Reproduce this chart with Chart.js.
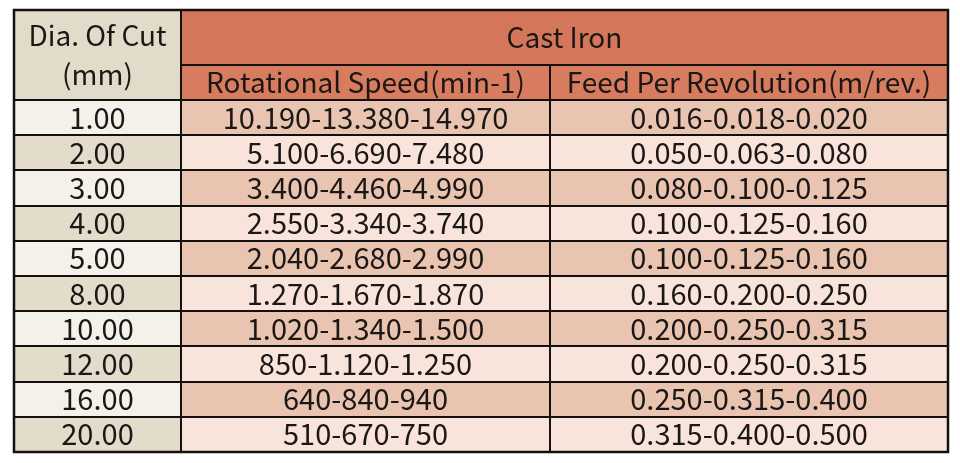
<!DOCTYPE html>
<html>
<head>
<meta charset="utf-8">
<script src="https://cdn.jsdelivr.net/npm/chart.js@4"></script>
<style>
  html, body { margin: 0; padding: 0; background: #fff; }
  #wrap { width: 960px; height: 463px; }
</style>
</head>
<body>
<div id="wrap"><canvas id="tableChart"></canvas></div>
<script>
// table content
const title = "Cast Iron";
const firstHeader = ["Dia. Of Cut", "(mm)"];
const subHeaders = ["Rotational Speed(min-1)", "Feed Per Revolution(m/rev.)"];
const diameters = ["1.00", "2.00", "3.00", "4.00", "5.00", "8.00", "10.00", "12.00", "16.00", "20.00"];
const speeds = [
  "10.190-13.380-14.970", "5.100-6.690-7.480", "3.400-4.460-4.990", "2.550-3.340-3.740",
  "2.040-2.680-2.990", "1.270-1.670-1.870", "1.020-1.340-1.500", "850-1.120-1.250",
  "640-840-940", "510-670-750"
];
const feeds = [
  "0.016-0.018-0.020", "0.050-0.063-0.080", "0.080-0.100-0.125", "0.100-0.125-0.160",
  "0.100-0.125-0.160", "0.160-0.200-0.250", "0.200-0.250-0.315", "0.200-0.250-0.315",
  "0.250-0.315-0.400", "0.315-0.400-0.500"
];

// layout (in scale units)
const colWidths = [167, 369, 398];
const titleH = 55, subH = 35, rowH = 35.2;
const FONT = '"Noto Sans CJK SC", "Noto Sans", sans-serif';

const colEdges = colWidths.reduce((a, w) => { a.push(a[a.length - 1] + w); return a; }, [0]);
const totalH = titleH + subH + rowH * diameters.length;

// cells drawn through the chart's x / y scales
const tablePlugin = {
  id: "tablePlugin",
  beforeDatasetsDraw(chart) {
    const { ctx, scales: { x, y } } = chart;
    const px = v => x.getPixelForValue(v);
    const py = v => y.getPixelForValue(v);

    const cell = (c0, c1, r0, r1, fill) => {
      ctx.fillStyle = fill;
      ctx.fillRect(px(c0), py(r0), px(c1) - px(c0), py(r1) - py(r0));
    };
    const text = (str, cx, cy) => {
      ctx.fillText(str, px(cx), py(cy));
    };

    ctx.save();
    // header
    cell(colEdges[0], colEdges[1], 0, titleH + subH, "#e3dbc9");
    cell(colEdges[1], colEdges[3], 0, titleH, "#d4765a");
    cell(colEdges[1], colEdges[3], titleH, titleH + subH, "#d77c5f");

    // body rows
    diameters.forEach((d, i) => {
      const r0 = titleH + subH + i * rowH;
      const odd = i % 2 === 0;
      cell(colEdges[0], colEdges[1], r0, r0 + rowH, odd ? "#f3f1e9" : "#e3dccb");
      cell(colEdges[1], colEdges[3], r0, r0 + rowH, odd ? "#e9c4b0" : "#f9e4dc");
    });

    // grid lines
    ctx.strokeStyle = "#141010";
    ctx.lineWidth = 2;
    const hLine = (r, c0, c1) => {
      ctx.beginPath();
      ctx.moveTo(px(c0), Math.round(py(r)));
      ctx.lineTo(px(c1), Math.round(py(r)));
      ctx.stroke();
    };
    const vLine = (c, r0, r1) => {
      ctx.beginPath();
      ctx.moveTo(Math.round(px(c)), py(r0));
      ctx.lineTo(Math.round(px(c)), py(r1));
      ctx.stroke();
    };
    hLine(titleH, colEdges[1], colEdges[3]);
    for (let i = 0; i < diameters.length; i++) {
      hLine(titleH + subH + i * rowH, colEdges[0], colEdges[3]);
    }
    vLine(colEdges[1], 0, totalH);
    vLine(colEdges[2], titleH, totalH);
    ctx.lineWidth = 2.5;
    ctx.strokeRect(px(colEdges[0]), py(0), px(colEdges[3]) - px(colEdges[0]), py(totalH) - py(0));

    // texts
    ctx.fillStyle = "#1b1716";
    ctx.textAlign = "center";
    ctx.textBaseline = "middle";
    const mid = k => (colEdges[k] + colEdges[k + 1]) / 2;
    const hMid = (titleH + subH) / 2;
    ctx.font = "28px " + FONT;
    text(firstHeader[0], mid(0), hMid - 19.5);
    text(firstHeader[1], mid(0), hMid + 19.5);
    text(title, (colEdges[1] + colEdges[3]) / 2, titleH / 2);
    text(subHeaders[0], mid(1), titleH + subH / 2);
    text(subHeaders[1], mid(2), titleH + subH / 2);
    ctx.font = "29px " + FONT;
    diameters.forEach((d, i) => {
      const cy = titleH + subH + i * rowH + rowH / 2;
      text(d, mid(0), cy);
      text(speeds[i], mid(1), cy);
      text(feeds[i], mid(2), cy);
    });
    ctx.restore();
  }
};

new Chart(document.getElementById("tableChart"), {
  type: "scatter",
  data: { datasets: [] },
  options: {
    responsive: true,
    maintainAspectRatio: false,
    animation: false,
    layout: { padding: { left: 14, right: 12, top: 10, bottom: 11 } },
    plugins: { legend: { display: false }, tooltip: { enabled: false } },
    scales: {
      x: { type: "linear", display: false, offset: false, min: 0, max: colEdges[3] },
      y: { type: "linear", display: false, offset: false, min: 0, max: totalH, reverse: true }
    }
  },
  plugins: [tablePlugin]
});
</script>
</body>
</html>
